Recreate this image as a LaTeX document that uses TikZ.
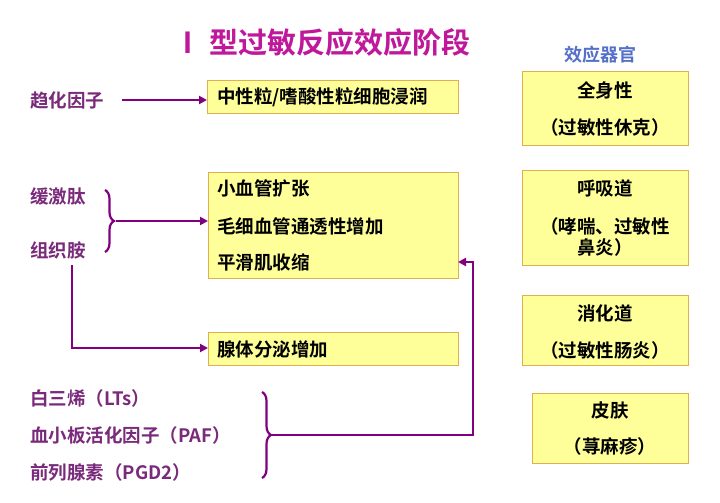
\documentclass[tikz,border=0pt]{standalone}
\usepackage{fontspec}
\setmainfont{Liberation Serif}
\newfontfamily\cjkb{Noto Sans CJK SC}[BoldFont={Noto Sans CJK SC Bold}]
\usetikzlibrary{decorations.pathreplacing,arrows.meta}
\definecolor{pur}{HTML}{800080}
\definecolor{lab}{HTML}{7A2A7A}
\definecolor{boxf}{HTML}{FFFF99}
\definecolor{boxd}{HTML}{E0B050}
\definecolor{ttl}{HTML}{C0189A}
\definecolor{eob}{HTML}{5570C8}
\tikzset{
 ybox/.style={draw=boxd,fill=boxf,line width=1pt,inner sep=0pt},
 lbl/.style={anchor=west,font=\cjkb\bfseries\fontsize{18.5}{20}\selectfont,text=lab,inner sep=0pt},
 btx/.style={anchor=west,font=\cjkb\bfseries\fontsize{18.5}{20}\selectfont,inner sep=0pt},
 ctx/.style={font=\cjkb\bfseries\fontsize{18.5}{20}\selectfont,inner sep=0pt},
 con/.style={draw=pur,line width=2.2pt,-{Triangle[length=8pt,width=8pt]}},
 brc/.style={draw=pur,line width=2.2pt,decorate,decoration={brace,amplitude=9pt}},
}
\begin{document}
\begin{tikzpicture}[x=1pt,y=-1pt]
\fill[white] (0,0) rectangle (720,503);
\node[font=\cjkb\bfseries\fontsize{29}{31}\selectfont,text=ttl] (title) at (322,42) {Ⅰ\ 型过敏反应效应阶段};
\node[font=\cjkb\bfseries\fontsize{18}{20}\selectfont,text=eob] (eo) at (600,55) {效应器官};
% boxes
\draw[ybox] (207,80) rectangle (458,113);
\node[btx] (b1t) at (217,97) {中性粒/嗜酸性粒细胞浸润};
\coordinate (b1w) at (207,100);
\draw[ybox] (208,172) rectangle (458,278);
\coordinate (b2w) at (208,221);
\coordinate (b2e) at (458,262);
\node[btx] (b2a) at (217,188) {小血管扩张};
\node[btx] (b2b) at (217,226) {毛细血管通透性增加};
\node[btx] (b2c) at (217,262) {平滑肌收缩};
\draw[ybox] (208,332) rectangle (458,365);
\coordinate (b3w) at (208,348);
\node[btx] (b3t) at (217,349) {腺体分泌增加};
% right boxes
\draw[ybox] (522,72) rectangle (688,145);
\node[ctx] (r1a) at (605,90) {全身性};
\node[ctx] (r1b) at (605,127) {（过敏性休克）};
\draw[ybox] (522,170) rectangle (688,265);
\node[ctx] (r2a) at (605,188) {呼吸道};
\node[ctx] (r2b) at (605,226) {（哮喘、过敏性};
\node[ctx] (r2c) at (605,247) {鼻炎）};
\draw[ybox] (522,295) rectangle (688,365);
\node[ctx] (r3a) at (605,313) {消化道};
\node[ctx] (r3b) at (605,350) {（过敏性肠炎）};
\draw[ybox] (532,393) rectangle (688,463);
\node[ctx] (r4a) at (610,410) {皮肤};
\node[ctx] (r4b) at (610,446) {（荨麻疹）};
% left labels
\node[lbl] (qh) at (30,100) {趋化因子};
\node[lbl] (hj) at (30,196) {缓激肽};
\node[lbl] (zz) at (30,250) {组织胺};
\node[lbl] (bs) at (30,398) {白三烯（\textbf{LTs}）};
\node[lbl] (xb) at (30,435) {血小板活化因子（\textbf{PAF}）};
\node[lbl] (ql) at (30,472) {前列腺素（\textbf{PGD2}）};
% connectors
\coordinate (qs) at (122,100);
\draw[con] (qs) -- (b1w);
\draw[brc] (105,190) -- (105,252);
\coordinate (m1) at (116,221);
\draw[con] (m1) -- (b2w);
\coordinate (zd) at (72,265);
\draw[con] (zd) |- (b3w);
\draw[brc] (262,392) -- (262,478);
\coordinate (m2) at (272,435);
\draw[con] (m2) -| (473,262) -- (b2e);
\end{tikzpicture}
\end{document}
